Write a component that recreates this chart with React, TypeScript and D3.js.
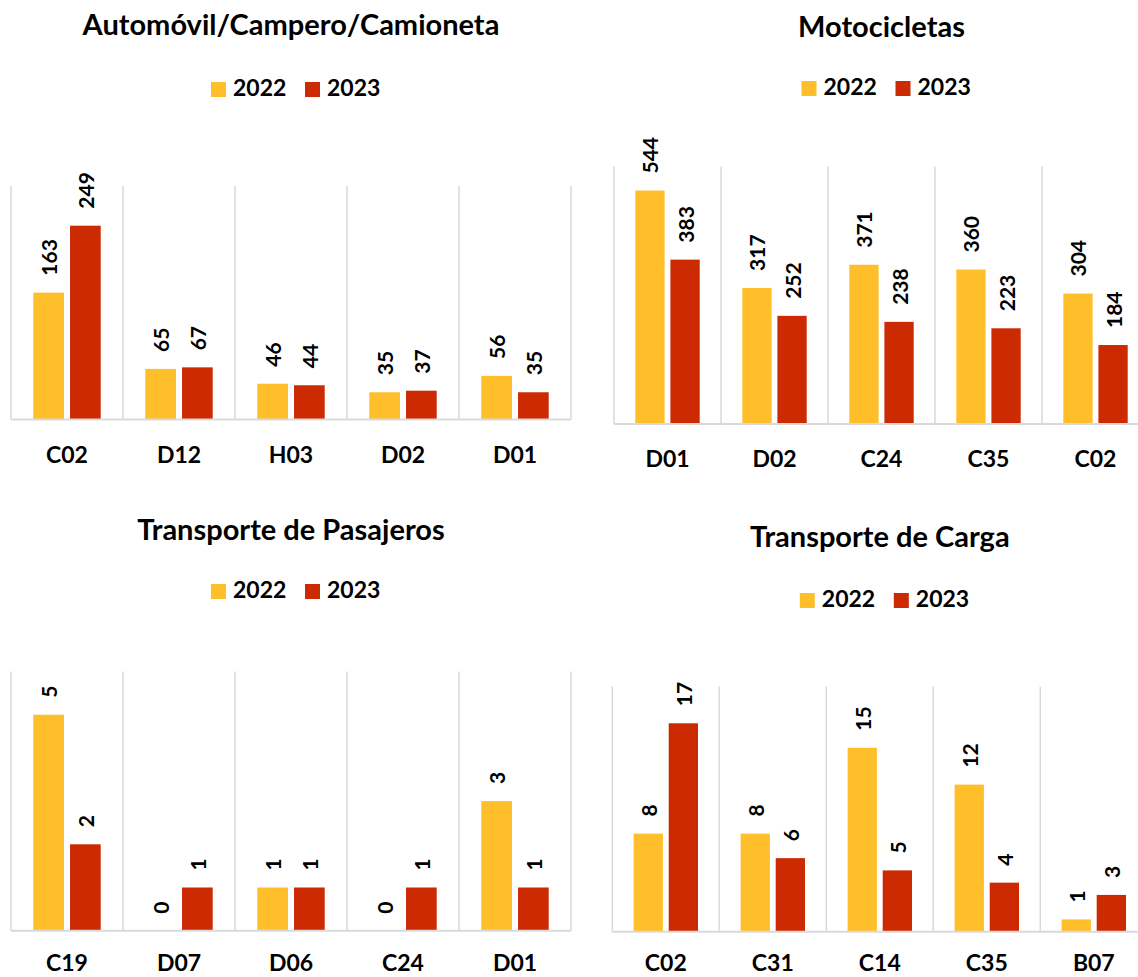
import * as d3 from "d3";

// --- data ---
const years = ["2022", "2023"];

const autoCats = ["C02", "D12", "H03", "D02", "D01"];
const auto2022 = [163, 65, 46, 35, 56];
const auto2023 = [249, 67, 44, 37, 35];

const motoCats = ["D01", "D02", "C24", "C35", "C02"];
const moto2022 = [544, 317, 371, 360, 304];
const moto2023 = [383, 252, 238, 223, 184];

const pasajCats = ["C19", "D07", "D06", "C24", "D01"];
const pasaj2022 = [5, 0, 1, 0, 3];
const pasaj2023 = [2, 1, 1, 1, 1];

const cargaCats = ["C02", "C31", "C14", "C35", "B07"];
const carga2022 = [8, 8, 15, 12, 1];
const carga2023 = [17, 6, 5, 4, 3];

const colors = ["#FFBF2B", "#CC2A00"];
const FONT = "Lato, 'Open Sans', sans-serif";

interface PanelProps {
    title: string;
    categories: string[];
    a: number[];
    b: number[];
    yMax: number;
    x0: number;
    step: number;
    top: number;
    base: number;
    titleY: number;
    legendY: number;
    labelY: number;
}

function Panel({ title, categories, a, b, yMax, x0, step, top, base, titleY, legendY, labelY }: PanelProps) {
    const x1 = x0 + step * categories.length;
    const x = d3.scaleBand<string>().domain(categories).range([x0, x1]);
    const sub = d3
        .scaleBand<string>()
        .domain(years)
        .range([0, step])
        .paddingInner(0.165)
        .paddingOuter(0.607);
    const y = d3.scaleLinear([0, yMax], [base, top]);
    const cx = (x0 + x1) / 2;
    const series = [a, b];

    return (
        <g fontFamily={FONT} fontWeight="bold" fill="#000">
            <text x={cx} y={titleY} textAnchor="middle" fontSize={29}>
                {title}
            </text>
            {/* legend */}
            <g transform={`translate(${cx + 4},${legendY})`}>
                {years.map((yr, i) => (
                    <g key={yr} transform={`translate(${i === 0 ? -84 : 10},0)`}>
                        <rect x={0} y={-15} width={15} height={15} fill={colors[i]} />
                        <text x={22} y={-1} fontSize={23}>
                            {yr}
                        </text>
                    </g>
                ))}
            </g>
            {/* vertical grid separators */}
            {d3.range(categories.length + 1).map((i) => (
                <line
                    key={i}
                    x1={x0 + i * step}
                    x2={x0 + i * step}
                    y1={top}
                    y2={base}
                    stroke="#D9D9D9"
                    strokeWidth={1.5}
                />
            ))}
            {/* bars */}
            {categories.map((c, ci) =>
                series.map((s, si) => {
                    const bx = (x(c) ?? 0) + (sub(years[si]) ?? 0);
                    const bw = sub.bandwidth();
                    const v = s[ci];
                    const by = y(v);
                    return (
                        <g key={c + si}>
                            <rect x={bx} y={by} width={bw} height={base - by} fill={colors[si]} />
                            <text
                                transform={`translate(${bx + bw / 2},${by - 17}) rotate(-90)`}
                                dominantBaseline="central"
                                fontSize={21}
                            >
                                {v}
                            </text>
                        </g>
                    );
                })
            )}
            <line x1={x0} x2={x1} y1={base} y2={base} stroke="#D9D9D9" strokeWidth={2} />
            {categories.map((c) => (
                <text
                    key={c}
                    x={(x(c) ?? 0) + step / 2}
                    y={labelY}
                    textAnchor="middle"
                    fontSize={23}
                >
                    {c}
                </text>
            ))}
        </g>
    );
}

export default function App() {
    return (
        <svg
            width={1138}
            height={977}
            style={{ position: "absolute", left: 0, top: 0, background: "#fff" }}
        >
            <rect width={1138} height={977} fill="#fff" />
            <Panel
                title="Automóvil/Campero/Camioneta"
                categories={autoCats}
                a={auto2022}
                b={auto2023}
                yMax={300}
                x0={11}
                step={112}
                top={186}
                base={419.5}
                titleY={35}
                legendY={97}
                labelY={463}
            />
            <Panel
                title="Motocicletas"
                categories={motoCats}
                a={moto2022}
                b={moto2023}
                yMax={600}
                x0={614}
                step={107}
                top={166.5}
                base={424}
                titleY={37}
                legendY={96}
                labelY={467}
            />
            <Panel
                title="Transporte de Pasajeros"
                categories={pasajCats}
                a={pasaj2022}
                b={pasaj2023}
                yMax={6}
                x0={11}
                step={112}
                top={671.5}
                base={930.7}
                titleY={540}
                legendY={599}
                labelY={971}
            />
            <Panel
                title="Transporte de Carga"
                categories={cargaCats}
                a={carga2022}
                b={carga2023}
                yMax={20}
                x0={612.3}
                step={107}
                top={686.5}
                base={931.7}
                titleY={547}
                legendY={608}
                labelY={971}
            />
        </svg>
    );
}
